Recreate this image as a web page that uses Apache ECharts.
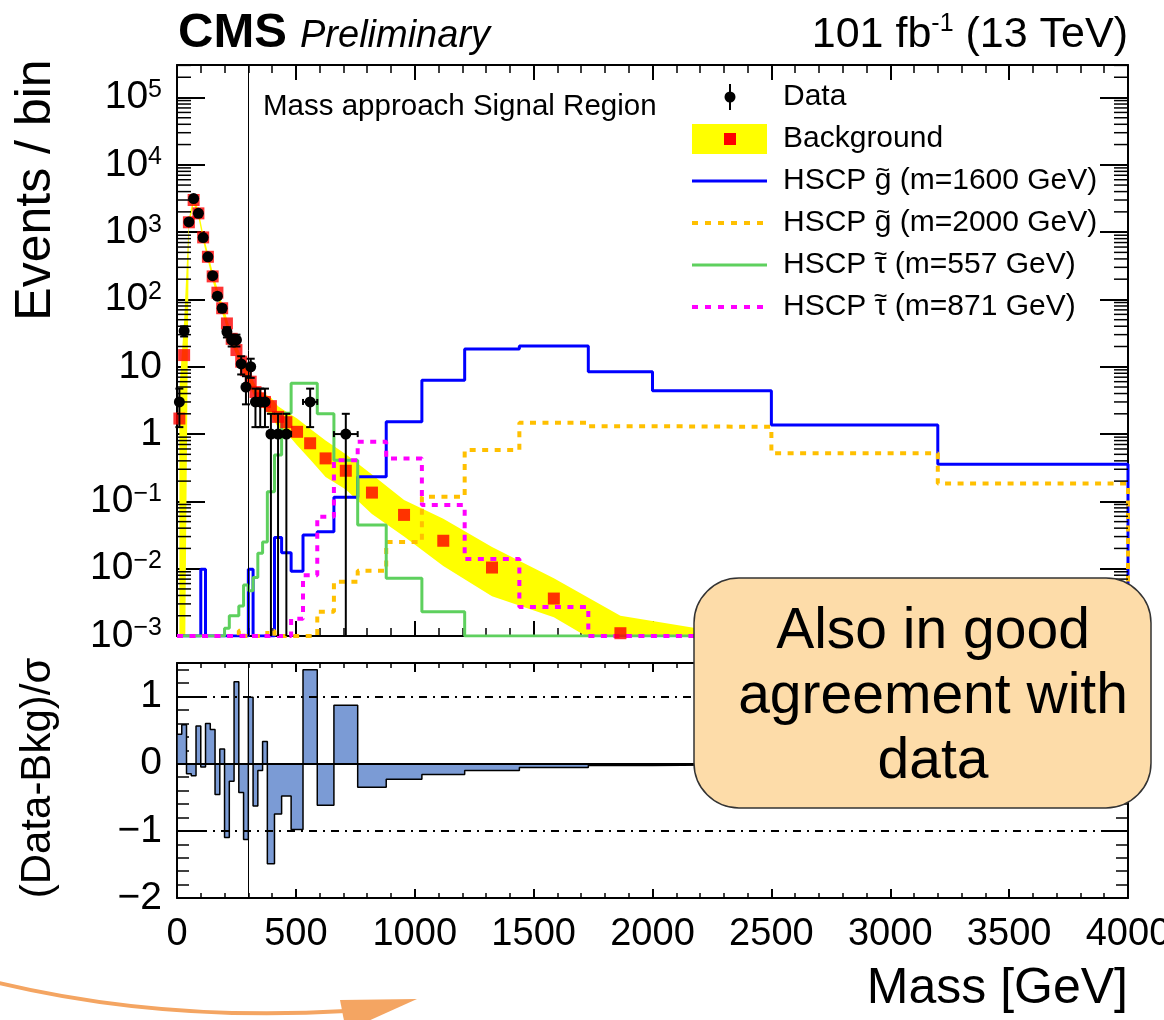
<!DOCTYPE html>
<html>
<head>
<meta charset="utf-8">
<script src="https://cdn.jsdelivr.net/npm/echarts@6/dist/echarts.min.js"></script>
<style>
html,body{margin:0;padding:0;background:#fff;}
#chart{width:1164px;height:1020px;}
</style>
</head>
<body>
<div id="chart"></div>
<script>
// ---------------- data ----------------
const binEdges = [0,20,40,60,80,100,120,140,160,180,200,220,240,260,280,300,320,340,360,380,410,440,480,530,590,660,760,880,1030,1210,1440,1730,2000,2500,3200,4000];
const dataCounts = [3,34,1420,3150,1900,830,430,225,112,74,33,25,25,11,5,10,3,3,3,1,1,1,0,3,0,1,0,0,0,0,0,0,0,0,0];
const bkgValues = [1.7,14.9,1400,3000,1900,835,430,220,126,74,44,26,17.7,11.9,8.9,6.0,4.2,3.4,3.0,2.6,1.8,1.5,1.08,0.73,0.435,0.285,0.135,0.063,0.026,0.0104,0.0036,0.0011,0.0003,0.00005,0.00001];
const bkgBandLow = [1e-5,1e-5,1230,2650,1680,730,375,190,108,63,37,22,14.8,9.8,7.2,4.8,3.3,2.7,2.3,1.9,1.25,1.05,0.68,0.42,0.23,0.15,0.065,0.03,0.011,0.0039,0.0019,0.0005,0.0001,0.00001,0.000001];
const bkgBandHigh = [4.7,48,1600,3400,2150,950,490,255,146,86,52,31,21,14.3,10.8,7.4,5.3,4.3,3.9,3.5,2.6,2.15,1.7,1.2,0.8,0.5,0.25,0.105,0.055,0.021,0.0072,0.002,0.0012,0.0002,0.00005];
const gluino1600 = [0,0,0,0,0,0.0098,0,0,0,0,0,0,0,0,0,0.0098,0,0,0,0,0.029,0.0173,0.0092,0.0316,0.0354,0.115,0.232,1.52,6.3,18.3,20.3,8.4,4.4,1.36,0.355];
const gluino2000 = [0,0,0,0,0,0,0,0,0,0,0,0,0,0.0012,0,0,0,0,0,0.0012,0,0,0,0,0.0023,0.0064,0.0093,0.025,0.117,0.58,1.47,1.31,1.28,0.517,0.185];
const stau557 = [0,0,0,0,0,0,0,0,0,0,0.0013,0.002,0.002,0.0028,0.0057,0.0047,0.0074,0.0169,0.025,0.139,0.49,2.03,5.7,5.7,2.0,0.41,0.0446,0.0072,0.0023,0,0,0,0,0,0];
const stau871 = [0,0,0,0,0,0,0,0,0,0,0,0,0,0,0,0,0,0,0,0,0,0,0.0018,0.008,0.059,0.41,0.77,0.435,0.088,0.0139,0.0027,0,0,0,0];
const pullValues = [0.44,0.58,-0.15,-0.18,0.56,-0.05,0.6,0.51,-0.46,0.22,-1.1,-0.26,1.22,-0.43,-1.13,0.99,-0.63,-0.1,0.33,-1.49,-0.75,-0.48,-0.98,1.4,-0.62,0.87,-0.35,-0.23,-0.16,-0.1,-0.055,-0.025,-0.012,-0.005,-0.002];
const massCut = 300;
// legend: [prefix, accented letter (drawn with a tilde), suffix]
const legendEntries = [
  ['Data', '', ''],
  ['Background', '', ''],
  ['HSCP ', 'g', ' (m=1600 GeV)'],
  ['HSCP ', 'g', ' (m=2000 GeV)'],
  ['HSCP ', '\u03C4', ' (m=557 GeV)'],
  ['HSCP ', '\u03C4', ' (m=871 GeV)']
];

// ---------------- helpers ----------------
const FONT = '"Liberation Sans", Arial, Helvetica, sans-serif';
const Y_MIN = 1e-3, Y_MAX = 3.04e5;
const binCenters = binEdges.slice(0, -1).map((e, i) => (e + binEdges[i + 1]) / 2);

function stepLine(vals, base, clampMin) {
  const pts = [[binEdges[0], base]];
  vals.forEach((v, i) => {
    const y = clampMin != null ? Math.max(v, clampMin) : v;
    pts.push([binEdges[i], y], [binEdges[i + 1], y]);
  });
  pts.push([binEdges[binEdges.length - 1], base]);
  return pts;
}
function logLabel(v) {
  const e = Math.log10(v), r = Math.round(e);
  if (Math.abs(e - r) > 1e-6) return '';
  if (r === 0) return '1';
  if (r === 1) return '10';
  return '10{sup|' + (r < 0 ? '\u2212' + (-r) : r) + '}';
}
function pullLabel(v) {
  if (Math.abs(v - Math.round(v)) > 1e-6) return '';
  return v < 0 ? '\u2212' + (-v) : String(v);
}
const logMinorTicks = [];
for (let k = -3; k <= 5; k++) for (let m = 2; m <= 9; m++) {
  const v = m * Math.pow(10, k);
  if (v < Y_MAX) logMinorTicks.push([0, v]);
}

const dataPoints = [];
dataCounts.forEach((n, i) => {
  if (n > 0) dataPoints.push([binCenters[i], n, binEdges[i], binEdges[i + 1], Math.sqrt(n)]);
});
const bkgPoints = bkgValues.map((v, i) => [binCenters[i], v]).filter(p => p[1] >= Y_MIN);

const frameLine = { show: true, onZero: false, lineStyle: { color: '#000', width: 2 } };
function xAx(grid, pos, tickLen, minorLen, labels) {
  return {
    gridIndex: grid, type: 'value', min: 0, max: 4000, interval: 500, position: pos,
    axisLine: frameLine,
    axisTick: { show: true, inside: true, length: tickLen, lineStyle: { color: '#000', width: 2 } },
    minorTick: { show: true, splitNumber: 5, length: minorLen, lineStyle: { color: '#000', width: 1.5 } },
    axisLabel: labels ? { show: true, formatter: v => String(v), fontSize: 38, color: '#000', margin: 18, fontFamily: FONT } : { show: false },
    splitLine: { show: false }, minorSplitLine: { show: false }
  };
}
function yLog(pos, labels) {
  return {
    gridIndex: 0, type: 'log', logBase: 10, min: Y_MIN, max: Y_MAX, splitNumber: 9, position: pos,
    axisLine: frameLine,
    axisTick: { show: true, inside: true, length: 28, lineStyle: { color: '#000', width: 2 } },
    minorTick: { show: false },
    axisLabel: labels ? {
      show: true, formatter: logLabel, fontSize: 39, lineHeight: 40, color: '#000', margin: 15, fontFamily: FONT,
      rich: { sup: { fontSize: 25, lineHeight: 18, verticalAlign: 'top', color: '#000', fontFamily: FONT } }
    } : { show: false },
    splitLine: { show: false }
  };
}
function yPull(pos, labels) {
  return {
    gridIndex: 1, type: 'value', min: -2, max: 1.5, interval: 1, position: pos,
    axisLine: frameLine,
    axisTick: { show: true, inside: true, length: 25, lineStyle: { color: '#000', width: 2 } },
    minorTick: { show: true, splitNumber: 5, length: 12, lineStyle: { color: '#000', width: 1.5 } },
    axisLabel: labels ? { show: true, formatter: pullLabel, fontSize: 39, color: '#000', margin: 15, fontFamily: FONT } : { show: false },
    splitLine: { show: false }, minorSplitLine: { show: false }
  };
}
function sigLine(name, vals, color, width, dash) {
  return {
    name: name, type: 'line', xAxisIndex: 0, yAxisIndex: 0, data: stepLine(vals, Y_MIN, Y_MIN),
    symbol: 'none', showSymbol: false, clip: true, z: 3, silent: true,
    lineStyle: { color: color, width: width, type: dash || 'solid', cap: 'butt' }
  };
}

// legend graphics
const LX0 = 692, LX1 = 767, LTX = 783, LFS = 30;
const legendY = [97, 139, 181, 223, 265, 307];
const measureCtx = document.createElement('canvas').getContext('2d');
measureCtx.font = LFS + 'px ' + FONT;
const legendGraphics = [
  { type: 'line', shape: { x1: 730, y1: 84, x2: 730, y2: 110 }, style: { stroke: '#000', lineWidth: 2 } },
  { type: 'circle', shape: { cx: 730, cy: legendY[0], r: 5.5 }, style: { fill: '#000' } },
  { type: 'rect', shape: { x: LX0, y: 124, width: LX1 - LX0, height: 30 }, style: { fill: '#ffff00' } },
  { type: 'rect', shape: { x: 724, y: 133, width: 12, height: 12 }, style: { fill: '#ff0000' } },
  { type: 'line', shape: { x1: LX0, y1: legendY[2], x2: LX1, y2: legendY[2] }, style: { stroke: '#0000ff', lineWidth: 3 } },
  { type: 'line', shape: { x1: LX0, y1: legendY[3], x2: LX1, y2: legendY[3] }, style: { stroke: '#ffc000', lineWidth: 4, lineDash: [6, 7] } },
  { type: 'line', shape: { x1: LX0, y1: legendY[4], x2: LX1, y2: legendY[4] }, style: { stroke: '#5ed05e', lineWidth: 3 } },
  { type: 'line', shape: { x1: LX0, y1: legendY[5], x2: LX1, y2: legendY[5] }, style: { stroke: '#ff00ff', lineWidth: 4, lineDash: [6, 7] } }
];
legendEntries.forEach((en, i) => {
  legendGraphics.push({
    type: 'text', x: LTX, y: legendY[i],
    style: { text: en[0] + en[1] + en[2], fontSize: LFS, fontFamily: FONT, fill: '#000', align: 'left', verticalAlign: 'middle' }
  });
  if (en[1]) {
    const x0 = LTX + measureCtx.measureText(en[0]).width + measureCtx.measureText(en[1]).width / 2;
    legendGraphics.push({
      type: 'text', x: x0, y: legendY[i] - 10,
      style: { text: '~', fontSize: 24, fontFamily: FONT, fill: '#000', align: 'center', verticalAlign: 'middle' }
    });
  }
});

const option = {
  animation: false,
  backgroundColor: '#fff',
  textStyle: { fontFamily: FONT },
  grid: [
    { left: 177, top: 65, width: 951, height: 571, containLabel: false, outerBoundsMode: 'none' },
    { left: 177, top: 663, width: 951, height: 235, containLabel: false, outerBoundsMode: 'none' }
  ],
  xAxis: [
    xAx(0, 'bottom', 15, 8, false),
    xAx(0, 'top', 15, 8, false),
    Object.assign(xAx(1, 'bottom', 9, 5, true), {
      name: 'Mass [GeV]', nameLocation: 'end', nameGap: 0,
      nameTextStyle: { fontSize: 50, color: '#000', fontFamily: FONT, align: 'right', verticalAlign: 'top', padding: [66, 0, 0, 0] }
    }),
    xAx(1, 'top', 9, 5, false)
  ],
  yAxis: [yLog('left', true), yLog('right', false), yPull('left', true), yPull('right', false)],
  series: [
    // background uncertainty band
    {
      type: 'custom', xAxisIndex: 0, yAxisIndex: 0, clip: true, silent: true, z: 1,
      data: [[binCenters[0], bkgValues[0]]],
      renderItem: function (params, api) {
        const top = binCenters.map((c, i) => api.coord([c, bkgBandHigh[i]]));
        const bot = binCenters.map((c, i) => api.coord([c, bkgBandLow[i]])).reverse();
        return { type: 'polygon', shape: { points: top.concat(bot) }, style: { fill: '#ffff00' } };
      }
    },
    Object.assign(sigLine('HSCP g\u0303 (m=1600 GeV)', gluino1600, '#0000ff', 3), {
      markLine: {
        symbol: ['none', 'none'], silent: true, label: { show: false }, animation: false,
        lineStyle: { color: '#000', width: 1, type: 'solid' }, data: [{ xAxis: massCut }]
      }
    }),
    sigLine('HSCP g\u0303 (m=2000 GeV)', gluino2000, '#ffc000', 4, [6, 6.5]),
    sigLine('HSCP \u03C4\u0303 (m=557 GeV)', stau557, '#5ed05e', 3),
    sigLine('HSCP \u03C4\u0303 (m=871 GeV)', stau871, '#ff00ff', 4, [6, 6.5]),
    {
      name: 'Background', type: 'scatter', xAxisIndex: 0, yAxisIndex: 0, data: bkgPoints,
      symbol: 'rect', symbolSize: 12, itemStyle: { color: '#ff0000' }, z: 4, silent: true, clip: true
    },
    {
      name: 'Data', type: 'custom', xAxisIndex: 0, yAxisIndex: 0, z: 5, silent: true,
      data: dataPoints,
      renderItem: function (params, api) {
        const cs = params.coordSys, bottom = cs.y + cs.height;
        const c = api.value(0), n = api.value(1), lo = api.value(2), hi = api.value(3), e = api.value(4);
        const p = api.coord([c, n]);
        const pl = api.coord([lo, n]), ph = api.coord([hi, n]);
        const pu = api.coord([c, n + e]);
        let pd, capLow = true;
        if (n - e > 0) {
          pd = api.coord([c, n - e]);
          if (pd[1] > bottom) { pd = [p[0], bottom]; capLow = false; }
        } else { pd = [p[0], bottom]; capLow = false; }
        const st = { stroke: '#000', lineWidth: 2 };
        const ch = [
          { type: 'line', shape: { x1: p[0], y1: pu[1], x2: p[0], y2: pd[1] }, style: st },
          { type: 'line', shape: { x1: pl[0], y1: p[1], x2: ph[0], y2: p[1] }, style: st },
          { type: 'line', shape: { x1: p[0] - 4, y1: pu[1], x2: p[0] + 4, y2: pu[1] }, style: st },
          { type: 'line', shape: { x1: pl[0], y1: p[1] - 3, x2: pl[0], y2: p[1] + 3 }, style: st },
          { type: 'line', shape: { x1: ph[0], y1: p[1] - 3, x2: ph[0], y2: p[1] + 3 }, style: st },
          { type: 'circle', shape: { cx: p[0], cy: p[1], r: 5.5 }, style: { fill: '#000' } }
        ];
        if (capLow) ch.push({ type: 'line', shape: { x1: p[0] - 4, y1: pd[1], x2: p[0] + 4, y2: pd[1] }, style: st });
        return { type: 'group', children: ch };
      }
    },
    // minor log ticks on both sides of the upper panel
    {
      type: 'custom', xAxisIndex: 0, yAxisIndex: 0, z: 6, silent: true, clip: false,
      data: logMinorTicks,
      renderItem: function (params, api) {
        const a = api.coord([0, api.value(1)]), b = api.coord([4000, api.value(1)]);
        const st = { stroke: '#000', lineWidth: 1.5 };
        return {
          type: 'group', children: [
            { type: 'line', shape: { x1: a[0], y1: a[1], x2: a[0] + 14, y2: a[1] }, style: st },
            { type: 'line', shape: { x1: b[0] - 14, y1: b[1], x2: b[0], y2: b[1] }, style: st }
          ]
        };
      }
    },
    // pull histogram
    {
      name: '(Data-Bkg)/\u03C3', type: 'line', xAxisIndex: 2, yAxisIndex: 2, data: stepLine(pullValues, 0, null),
      symbol: 'none', showSymbol: false, silent: true, clip: true, z: 2,
      lineStyle: { color: '#000', width: 1.5 },
      areaStyle: { color: '#7b9bd5', opacity: 1, origin: 'auto' },
      markLine: {
        symbol: ['none', 'none'], silent: true, label: { show: false }, animation: false,
        data: [
          { yAxis: 0, lineStyle: { color: '#000', width: 2, type: 'solid' } },
          { yAxis: 1, lineStyle: { color: '#000', width: 2, type: [8, 6, 2, 6] } },
          { yAxis: -1, lineStyle: { color: '#000', width: 2, type: [8, 6, 2, 6] } },
          { xAxis: massCut, lineStyle: { color: '#000', width: 1, type: 'solid' } }
        ]
      }
    }
  ],
  graphic: [
    { type: 'text', x: 178, y: 33, style: { text: 'CMS', fontSize: 49, fontWeight: 'bold', fontFamily: FONT, fill: '#000', align: 'left', verticalAlign: 'middle' } },
    { type: 'text', x: 300, y: 36, style: { text: 'Preliminary', fontSize: 38, fontStyle: 'italic', fontFamily: FONT, fill: '#000', align: 'left', verticalAlign: 'middle' } },
    { type: 'text', x: 1128, y: 35, style: {
      text: '101 fb{sup|-1} (13 TeV)', fontSize: 43, lineHeight: 46, fontFamily: FONT, fill: '#000', align: 'right', verticalAlign: 'middle',
      rich: { sup: { fontSize: 25, lineHeight: 20, verticalAlign: 'top', fontFamily: FONT, fill: '#000' } } } },
    { type: 'text', x: 36, y: 190, rotation: Math.PI / 2, style: { text: 'Events / bin', fontSize: 50, fontFamily: FONT, fill: '#000', align: 'center', verticalAlign: 'middle' } },
    { type: 'text', x: 38, y: 778, rotation: Math.PI / 2, style: { text: '(Data-Bkg)/\u03C3', fontSize: 42, fontFamily: FONT, fill: '#000', align: 'center', verticalAlign: 'middle' } },
    { type: 'text', x: 263, y: 107, style: { text: 'Mass approach Signal Region', fontSize: 29.5, fontFamily: FONT, fill: '#000', align: 'left', verticalAlign: 'middle' } }
  ].concat(legendGraphics).concat([
    { type: 'rect', z: 100, shape: { x: 694, y: 578, width: 457, height: 230, r: 45 }, style: { fill: '#fddca9', stroke: '#333', lineWidth: 1.5 } },
    { type: 'text', z: 101, x: 933, y: 697, style: { text: 'Also in good\nagreement with\ndata', fontSize: 57, lineHeight: 65, fontFamily: FONT, fill: '#000', align: 'center', verticalAlign: 'middle' } },
    { type: 'bezierCurve', z: 100, shape: { x1: -5, y1: 982, cpx1: 160, cpy1: 1022, x2: 346, y2: 1011 }, style: { stroke: '#f4a562', lineWidth: 4, fill: null } },
    { type: 'polygon', z: 100, shape: { points: [[340, 1000], [417, 999], [346, 1031]] }, style: { fill: '#f4a562' } }
  ])
};

const chart = echarts.init(document.getElementById('chart'), null, { renderer: 'canvas', width: 1164, height: 1020 });
chart.setOption(option);
</script>
</body>
</html>
